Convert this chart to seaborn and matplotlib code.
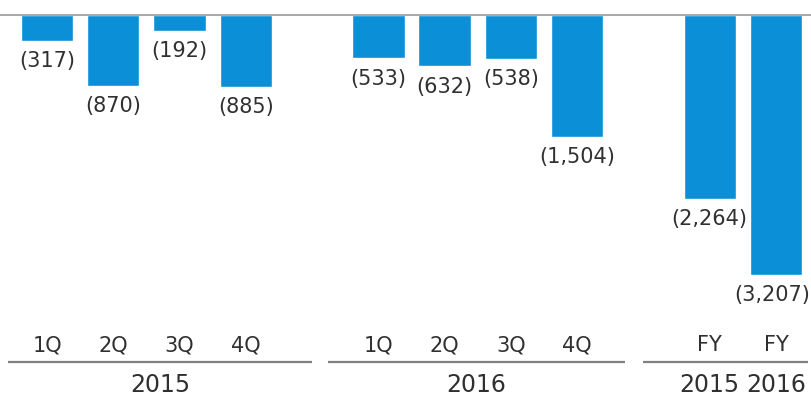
import matplotlib
matplotlib.use("Agg")
import matplotlib.pyplot as plt
import matplotlib.transforms as mtransforms
import seaborn as sns
import pandas as pd

# Quarterly and full-year results (negative = loss)
groups = ["2015", "2016", "FY"]
group_labels = ["2015", "2016", None]
tick_labels = [["1Q", "2Q", "3Q", "4Q"],
               ["1Q", "2Q", "3Q", "4Q"],
               ["FY", "FY"]]
values_2015 = [-317, -870, -192, -885]
values_2016 = [-533, -632, -538, -1504]
values_fy = [-2264, -3207]
fy_year_labels = ["2015", "2016"]

series = [values_2015, values_2016, values_fy]

# Lay groups out on one numeric axis with an empty slot between them
rows = []
pos = 0
group_pos = []
for g, vals, ticks in zip(groups, series, tick_labels):
    ps = []
    for v, t in zip(vals, ticks):
        rows.append({"group": g, "pos": pos, "value": v, "tick": t})
        ps.append(pos)
        pos += 1
    group_pos.append(ps)
    pos += 1
df = pd.DataFrame(rows)

sns.set_theme(style="white")
plt.rcParams["font.family"] = ["DejaVu Sans"]

W, H = 812, 397
fig = plt.figure(figsize=(W / 100, H / 100), dpi=100)
ax = fig.add_axes([0, 0, 1, 1])

bar_color = "#0b8fd6"
sns.barplot(data=df, x="pos", y="value", native_scale=True, width=0.79,
            color=bar_color, saturation=1, ax=ax, errorbar=None)

# Pixel mapping: zero line 15 px from the top, 3,207 reaches 275 px
px_per_unit_y = 260 / 3207.0
ax.set_ylim(-(H - 15) / px_per_unit_y, 15 / px_per_unit_y)
px_per_unit_x = 66.27
ax.set_xlim(-47 / px_per_unit_x, 11 + (W - 776) / px_per_unit_x)
ax.set_axis_off()

ax.axhline(0, color="#9a9a9a", lw=1.2, zorder=3)

text_color = "#303030"
value_texts = []
for _, r in df.iterrows():
    t = ax.annotate(f"({-r['value']:,})", xy=(r["pos"], r["value"]),
                    xytext=(0, -7.5), textcoords="offset points",
                    ha="center", va="top", fontsize=15, color=text_color)
    value_texts.append(t)

# Keep value labels inside the canvas
fig.canvas.draw()
renderer = fig.canvas.get_renderer()
for t in value_texts:
    bb = t.get_window_extent(renderer)
    if bb.x1 > W - 2:
        t.set_ha("right")
        x_right = ax.transData.inverted().transform((W - 2, 0))[0]
        t.xy = (x_right, t.xy[1])

trans = mtransforms.blended_transform_factory(ax.transData, fig.transFigure)

def fy(px):
    return 1 - px / H

for _, r in df.iterrows():
    ax.text(r["pos"], fy(345), r["tick"], transform=trans, ha="center",
            va="center", fontsize=15, color=text_color)

# Group underline extents (data units, relative to first/last slot)
line_pads = [(-0.59, 1.0), (-0.76, 0.72), (-1.01, 0.48)]
for ps, (pl, pr), gl in zip(group_pos, line_pads, group_labels):
    x0, x1 = ps[0] + pl, ps[-1] + pr
    ax.plot([x0, x1], [fy(361.5)] * 2, transform=trans, color="#808080",
            lw=1.6, solid_capstyle="butt", clip_on=False)
    if gl is not None:
        ax.text((x0 + x1) / 2, fy(385), gl, transform=trans, ha="center",
                va="center", fontsize=17, color=text_color)

for p, yl in zip(group_pos[2], fy_year_labels):
    ax.text(p, fy(385), yl, transform=trans, ha="center", va="center",
            fontsize=17, color=text_color)

fig.savefig("out.png", dpi=100, facecolor="white")
